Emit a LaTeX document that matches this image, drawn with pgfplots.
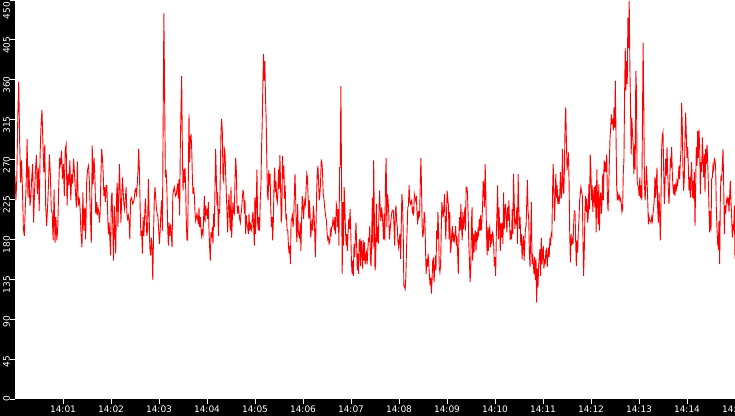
\documentclass[border=0pt]{standalone}
\usepackage{fontspec}
\setmainfont{DejaVu Sans}
\usepackage{pgfplots}
\usepackage{pgfplotstable}
\pgfplotsset{compat=1.18}

% one table per 100 s stretch (14:00 + 0..900 s); last row repeats the next table's first value
\pgfplotstableread[row sep=\\]{y\\
252\\224\\250\\319\\358\\291\\244\\269\\237\\192\\184\\214\\242\\293\\227\\263\\218\\227\\250\\265\\199\\233\\258\\275\\231\\261\\212\\276\\309\\326\\
289\\256\\287\\218\\195\\216\\242\\276\\254\\214\\209\\179\\236\\176\\205\\179\\194\\239\\272\\265\\280\\248\\265\\229\\282\\287\\218\\254\\241\\269\\
224\\254\\243\\271\\254\\233\\216\\268\\218\\227\\214\\186\\171\\233\\190\\216\\180\\244\\259\\263\\244\\209\\176\\286\\242\\272\\247\\
}\tA
\pgfplotstableread[row sep=\\]{y\\
247\\209\\222\\207\\216\\212\\199\\211\\252\\282\\272\\256\\229\\239\\222\\241\\241\\212\\186\\199\\182\\162\\226\\233\\194\\156\\218\\188\\164\\226\\
244\\194\\231\\265\\231\\199\\226\\250\\235\\220\\214\\226\\239\\209\\203\\207\\201\\180\\224\\227\\224\\220\\222\\226\\235\\237\\231\\242\\256\\282\\
256\\214\\184\\190\\164\\205\\184\\205\\226\\205\\184\\190\\248\\211\\171\\162\\182\\171\\134\\184\\224\\239\\226\\214\\209\\205\\190\\175\\190\\212\\
224\\190\\312\\435\\342\\250\\258\\239\\197\\173\\199\\184\\197\\186\\171\\229\\235\\239\\233\\
}\tB
\pgfplotstableread[row sep=\\]{y\\
233\\229\\231\\237\\243\\226\\248\\207\\287\\327\\364\\287\\235\\259\\244\\261\\239\\199\\179\\179\\250\\321\\267\\293\\299\\284\\252\\231\\239\\229\\
211\\201\\205\\209\\203\\197\\216\\194\\205\\192\\184\\190\\186\\205\\229\\199\\218\\209\\212\\203\\222\\190\\171\\156\\188\\182\\194\\175\\209\\194\\
237\\282\\250\\218\\233\\184\\214\\209\\256\\301\\316\\301\\250\\246\\282\\278\\254\\231\\211\\188\\216\\231\\205\\190\\239\\182\\203\\222\\211\\209\\
246\\272\\258\\218\\209\\218\\211\\203\\199\\209\\214\\227\\235\\233\\209\\224\\186\\207\\197\\194\\186\\209\\190\\199\\192\\190\\205\\211\\194\\173\\227\\
}\tC
\pgfplotstableread[row sep=\\]{y\\
227\\186\\224\\259\\199\\190\\205\\190\\224\\237\\282\\312\\355\\389\\359\\381\\340\\317\\269\\231\\224\\258\\241\\254\\216\\194\\205\\179\\201\\241\\
261\\233\\246\\227\\222\\233\\259\\237\\275\\241\\199\\211\\274\\248\\263\\226\\241\\205\\207\\190\\190\\173\\164\\173\\152\\201\\203\\207\\194\\203\\
231\\254\\227\\190\\177\\220\\190\\184\\182\\199\\167\\199\\229\\224\\203\\216\\224\\220\\239\\254\\250\\227\\203\\224\\209\\182\\192\\203\\190\\218\\
209\\190\\160\\194\\231\\256\\263\\244\\224\\231\\244\\269\\267\\256\\231\\227\\218\\211\\205\\201\\186\\180\\182\\175\\177\\190\\186\\194\\195\\203\\199\\190\\205\\
}\tD
\pgfplotstableread[row sep=\\]{y\\
205\\186\\220\\216\\194\\214\\173\\261\\261\\353\\246\\141\\222\\173\\239\\218\\190\\173\\186\\167\\190\\203\\192\\214\\190\\156\\141\\156\\139\\175\\
160\\180\\199\\173\\145\\164\\141\\179\\180\\150\\179\\167\\147\\179\\156\\177\\152\\160\\165\\152\\167\\182\\177\\195\\156\\150\\186\\227\\169\\269\\
205\\145\\152\\220\\177\\194\\175\\209\\235\\214\\201\\216\\209\\197\\180\\209\\179\\248\\272\\194\\231\\224\\209\\180\\190\\199\\207\\212\\213\\212\\
195\\173\\212\\218\\201\\194\\177\\171\\180\\186\\158\\194\\231\\220\\190\\128\\126\\124\\137\\167\\190\\216\\218\\241\\224\\220\\222\\224\\211\\214\\207\\231\\227\\
}\tE
\pgfplotstableread[row sep=\\]{y\\
227\\224\\229\\212\\197\\212\\205\\207\\239\\272\\237\\192\\182\\190\\211\\205\\171\\141\\158\\149\\164\\152\\139\\128\\137\\119\\134\\156\\158\\132\\
145\\162\\145\\190\\180\\211\\186\\149\\143\\150\\188\\222\\214\\205\\216\\231\\201\\180\\207\\235\\226\\218\\180\\211\\165\\171\\186\\195\\177\\184\\
179\\186\\195\\173\\184\\164\\141\\186\\205\\190\\220\\194\\179\\211\\192\\201\\216\\190\\239\\239\\233\\209\\177\\156\\132\\145\\197\\216\\156\\186\\
165\\184\\190\\167\\188\\179\\190\\186\\203\\190\\207\\190\\201\\216\\246\\241\\216\\265\\233\\190\\162\\194\\167\\190\\194\\171\\186\\175\\188\\186\\173\\150\\160\\
}\tF
\pgfplotstableread[row sep=\\]{y\\
160\\139\\186\\211\\241\\180\\216\\194\\167\\199\\182\\199\\175\\233\\192\\212\\220\\203\\188\\216\\201\\224\\199\\179\\190\\180\\214\\186\\254\\226\\
192\\203\\197\\216\\175\\254\\216\\192\\205\\173\\186\\158\\173\\184\\156\\173\\192\\195\\220\\247\\212\\203\\165\\149\\186\\222\\152\\164\\152\\141\\
160\\134\\158\\109\\147\\126\\150\\160\\169\\139\\182\\152\\164\\173\\147\\158\\152\\167\\169\\149\\162\\171\\160\\182\\173\\186\\184\\231\\265\\235\\
201\\226\\254\\227\\241\\220\\226\\220\\231\\256\\226\\231\\282\\241\\231\\259\\310\\329\\291\\258\\267\\278\\246\\188\\154\\186\\173\\180\\175\\197\\212\\211\\
}\tG
\pgfplotstableread[row sep=\\]{y\\
211\\179\\150\\179\\165\\190\\201\\224\\231\\239\\233\\231\\184\\139\\165\\209\\229\\211\\226\\199\\205\\242\\214\\276\\259\\224\\241\\211\\227\\239\\
216\\241\\188\\259\\224\\197\\242\\190\\226\\233\\209\\226\\254\\224\\269\\256\\267\\256\\276\\226\\212\\237\\269\\295\\306\\321\\310\\316\\303\\329\\
306\\359\\299\\242\\224\\231\\226\\229\\224\\226\\220\\211\\214\\254\\269\\342\\396\\348\\381\\355\\430\\396\\449\\374\\329\\276\\317\\299\\287\\254\\
287\\259\\370\\348\\246\\241\\239\\229\\250\\227\\241\\224\\310\\402\\334\\244\\224\\239\\263\\246\\224\\197\\205\\201\\201\\199\\205\\201\\209\\216\\227\\250\\
}\tH
\pgfplotstableread[row sep=\\]{y\\
250\\227\\244\\261\\216\\199\\233\\207\\179\\224\\282\\297\\301\\259\\220\\241\\271\\252\\284\\256\\237\\220\\242\\269\\265\\284\\254\\239\\231\\242\\
229\\241\\237\\246\\242\\250\\263\\248\\269\\280\\334\\306\\258\\235\\250\\293\\323\\297\\272\\284\\263\\235\\250\\227\\254\\267\\227\\246\\226\\256\\
195\\241\\284\\263\\302\\272\\304\\284\\231\\267\\256\\295\\272\\250\\276\\233\\282\\265\\287\\269\\244\\214\\188\\212\\190\\248\\250\\263\\259\\271\\
269\\261\\214\\192\\175\\171\\201\\152\\227\\252\\246\\265\\282\\244\\186\\218\\209\\222\\227\\222\\227\\211\\229\\246\\222\\205\\182\\197\\190\\218\\158\\
}\tI

\newcommand\nrows[2]{\pgfplotstablegetrowsof{#1}\pgfmathsetmacro#2{\pgfplotsretval-1}}

\begin{document}
\begin{tikzpicture}
\nrows{\tA}\nA \nrows{\tB}\nB \nrows{\tC}\nC
\nrows{\tD}\nD \nrows{\tE}\nE \nrows{\tF}\nF
\nrows{\tG}\nG \nrows{\tH}\nH \nrows{\tI}\nI
\fill[black] (-15pt,-16.5pt) rectangle (720pt,399pt);
\begin{axis}[
    at={(0pt,0pt)}, anchor=south west,
    scale only axis, width=720pt, height=399pt,
    xmin=0, xmax=900, ymin=0, ymax=450,
    axis background/.style={fill=white},
    axis line style={draw=none},
    tick align=outside, major tick length=5pt,
    tick style={white, line width=1pt},
    xtick pos=bottom, ytick pos=left,
    xtick={60,120,...,900},
    xticklabels={14:01,14:02,14:03,14:04,14:05,14:06,14:07,14:08,14:09,14:10,14:11,14:12,14:13,14:14,14:15},
    ytick={0,45,...,405},
    extra y ticks={450},
    extra y tick style={yticklabel style={xshift=-5.5pt}},
    /pgf/number format/assume math mode=true,
    ticklabel style={font=\fontsize{9}{9}\selectfont, text=white, inner sep=0pt},
    xticklabel style={anchor=north, yshift=-2pt},
    yticklabel style={xshift=-3.5pt, yshift=3.5pt, rotate=90, anchor=east},
    seg/.style={red, solid, line width=0.9pt, mark=none},
]
\addplot[seg] table[x expr={0+\coordindex*100/\nA}, y=y]{\tA};
\addplot[seg] table[x expr={100+\coordindex*100/\nB}, y=y]{\tB};
\addplot[seg] table[x expr={200+\coordindex*100/\nC}, y=y]{\tC};
\addplot[seg] table[x expr={300+\coordindex*100/\nD}, y=y]{\tD};
\addplot[seg] table[x expr={400+\coordindex*100/\nE}, y=y]{\tE};
\addplot[seg] table[x expr={500+\coordindex*100/\nF}, y=y]{\tF};
\addplot[seg] table[x expr={600+\coordindex*100/\nG}, y=y]{\tG};
\addplot[seg] table[x expr={700+\coordindex*100/\nH}, y=y]{\tH};
\addplot[seg] table[x expr={800+\coordindex*100/\nI}, y=y]{\tI};
\end{axis}
\pgfresetboundingbox
\useasboundingbox (-15pt,-16.5pt) rectangle (720pt,399pt);
\end{tikzpicture}
\end{document}
